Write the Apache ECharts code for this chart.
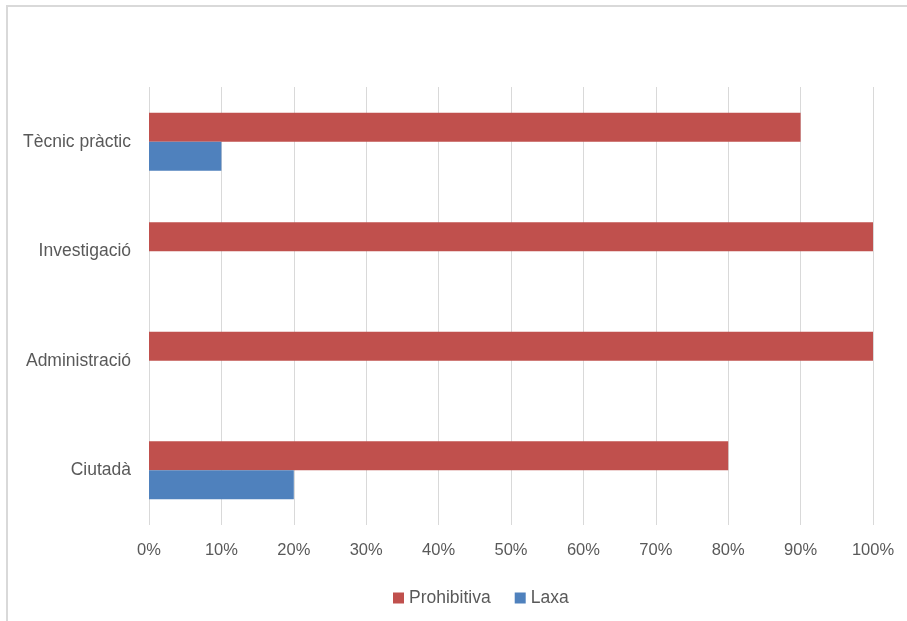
<!DOCTYPE html>
<html><head><meta charset="utf-8">
<script src="https://cdn.jsdelivr.net/npm/echarts@6/dist/echarts.min.js"></script>
<style>html,body{margin:0;padding:0;background:#fff}#c{width:907px;height:621px}</style>
</head><body><div id="c"></div>
<script>
const categories = ['Ciutadà', 'Administració', 'Investigació', 'Tècnic pràctic'];
const prohibitiva = [80, 100, 100, 90];
const laxa = [20, 0, 0, 10];
const tickLabels = ['0%','10%','20%','30%','40%','50%','60%','70%','80%','90%','100%'];

const chart = echarts.init(document.getElementById('c'));
const font = 'Liberation Sans';
chart.setOption({
  animation: false,
  textStyle: { fontFamily: font },
  graphic: [{ type: 'rect', shape: { x: 7, y: 6, width: 920, height: 640 }, style: { fill: 'none', stroke: '#d9d9d9', lineWidth: 2 }, silent: true }],
  grid: { left: 149, right: 34, top: 87, bottom: 96, containLabel: false },
  legend: {
    top: 584, left: 388, itemWidth: 11, itemHeight: 11, itemGap: 24,
    icon: 'rect',
    textStyle: { color: '#595959', fontSize: 17.5, fontFamily: font },
    data: ['Prohibitiva', 'Laxa']
  },
  xAxis: {
    type: 'value', min: 0, max: 100, interval: 10,
    axisLine: { show: false }, axisTick: { show: false },
    splitLine: { lineStyle: { color: '#d9d9d9', width: 1 } },
    axisLabel: { color: '#595959', fontSize: 16.5, margin: 17, formatter: v => tickLabels[Math.round(v / 10)] }
  },
  yAxis: {
    type: 'category', data: categories,
    axisLine: { show: false }, axisTick: { show: false },
    axisLabel: { color: '#595959', fontSize: 17.5, margin: 18 }
  },
  series: [
    { name: 'Prohibitiva', type: 'bar', data: prohibitiva, itemStyle: { color: '#C0504D' }, barGap: '0%', barCategoryGap: '47%' },
    { name: 'Laxa', type: 'bar', data: laxa, itemStyle: { color: '#4F81BD' }, barGap: '0%', barCategoryGap: '47%' }
  ]
});
</script></body></html>
